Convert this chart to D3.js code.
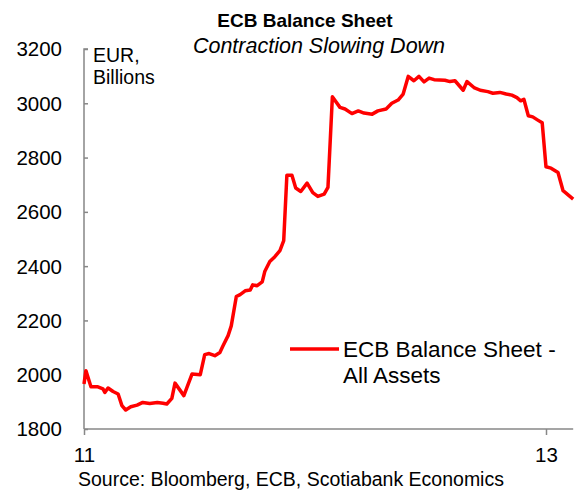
<!DOCTYPE html>
<html>
<head>
<meta charset="utf-8">
<script src="https://cdn.jsdelivr.net/npm/d3@7"></script>
<style>
  html, body { margin: 0; padding: 0; background: #fff; }
  svg { display: block; font-family: "Liberation Sans", Arial, sans-serif; }
</style>
</head>
<body>
<svg id="chart" width="581" height="492"></svg>
<script>
// ECB total assets, EUR billions (weekly observations)
const dates = [
  "2011-01-01","2011-01-04","2011-01-12","2011-01-22","2011-01-31","2011-02-03","2011-02-08","2011-02-16",
  "2011-02-24","2011-03-02","2011-03-08","2011-03-16","2011-03-26","2011-04-04","2011-04-15","2011-04-27",
  "2011-05-06","2011-05-12","2011-05-20","2011-05-25","2011-06-08","2011-06-21","2011-07-04","2011-07-11",
  "2011-07-18","2011-07-27","2011-08-04","2011-08-09","2011-08-17","2011-08-22","2011-08-30","2011-09-05",
  "2011-09-13","2011-09-21","2011-09-25","2011-10-02","2011-10-10","2011-10-14","2011-10-22","2011-10-30",
  "2011-11-07","2011-11-13","2011-11-18","2011-11-26","2011-12-02","2011-12-10","2011-12-20","2011-12-29",
  "2012-01-06","2012-01-16","2012-01-22","2012-01-29","2012-02-10","2012-02-18","2012-02-29","2012-03-10",
  "2012-03-19","2012-04-01","2012-04-10","2012-04-23","2012-05-02","2012-05-12","2012-05-20","2012-05-28",
  "2012-06-06","2012-06-14","2012-06-22","2012-06-30","2012-07-08","2012-07-25","2012-08-02","2012-08-10",
  "2012-08-23","2012-08-29","2012-09-09","2012-09-19","2012-10-01","2012-10-09","2012-10-20","2012-10-30",
  "2012-11-08","2012-11-16","2012-11-22","2012-11-27","2012-12-04","2012-12-11","2012-12-19","2012-12-26",
  "2013-01-01","2013-01-09","2013-01-20","2013-01-28","2013-02-13"
];
const assets = [
  1966, 2015, 1956, 1956, 1948, 1935, 1951, 1938,
  1929, 1886, 1870, 1882, 1888, 1898, 1894, 1898,
  1895, 1892, 1913, 1969, 1923, 2003, 2000, 2074,
  2078, 2070, 2082, 2107, 2144, 2180, 2288, 2295,
  2309, 2312, 2331, 2328, 2342, 2380, 2417, 2435,
  2457, 2494, 2735, 2735, 2688, 2675, 2706, 2671,
  2657, 2665, 2690, 3024, 2985, 2979, 2962, 2972,
  2964, 2960, 2972, 2979, 3000, 3012, 3034, 3099,
  3083, 3099, 3079, 3093, 3087, 3085, 3080, 3083,
  3048, 3080, 3058, 3048, 3043, 3037, 3040, 3034,
  3030, 3021, 3009, 3015, 2954, 2950, 2938, 2928,
  2766, 2761, 2745, 2678, 2647
];
const yTicks = [1800, 2000, 2200, 2400, 2600, 2800, 3000, 3200];
const xTickDates = ["2011-01-01", "2013-01-01"];
const titleText = "ECB Balance Sheet";
const subtitleText = "Contraction Slowing Down";
const unitLines = ["EUR,", "Billions"];
const legendLines = ["ECB Balance Sheet -", "All Assets"];
const sourceText = "Source: Bloomberg, ECB, Scotiabank Economics";

const parse = d3.timeParse("%Y-%m-%d");
const series = dates.map((d, i) => ({ date: parse(d), value: assets[i] }));

const svg = d3.select("#chart");
const axisColor = "#878787";
const lineColor = "#ff0000";

const plotLeft = 84, plotBottom = 429, plotTop = 49;
const x = d3.scaleTime()
  .domain([parse("2011-01-01"), parse("2013-01-01")])
  .range([plotLeft, 546]);
const xEnd = x(series[series.length - 1].date);
const y = d3.scaleLinear().domain([1800, 3200]).range([plotBottom, plotTop]);

// Title block
svg.append("text")
  .attr("x", 305).attr("y", 27)
  .attr("text-anchor", "middle")
  .attr("font-size", 19).attr("font-weight", "bold")
  .text(titleText);
svg.append("text")
  .attr("x", 319).attr("y", 53)
  .attr("text-anchor", "middle")
  .attr("font-size", 21.5).attr("font-style", "italic")
  .text(subtitleText);

// Y axis: ticks point inward, labels on the left
const yAxis = d3.axisRight(y).tickValues(yTicks).tickSize(4).tickFormat("");
const yg = svg.append("g").attr("transform", `translate(${plotLeft},0)`).call(yAxis);
yg.select(".domain").attr("stroke", axisColor).attr("stroke-width", 1.5)
  .attr("d", `M4,${plotTop}H0V${plotBottom}`);
yg.selectAll(".tick line").attr("stroke", axisColor).attr("stroke-width", 1.5);

svg.append("g").selectAll("text")
  .data(yTicks)
  .join("text")
  .attr("x", 62)
  .attr("y", d => y(d))
  .attr("dy", "0.36em")
  .attr("text-anchor", "end")
  .attr("font-size", 20.5)
  .text(d => d);

// X axis: year ticks below the baseline
const xAxis = d3.axisBottom(x)
  .tickValues(xTickDates.map(parse))
  .tickSize(6)
  .tickFormat(d3.timeFormat("%y"));
const xg = svg.append("g").attr("transform", `translate(0,${plotBottom})`).call(xAxis);
xg.select(".domain").attr("stroke", axisColor).attr("stroke-width", 1.5)
  .attr("d", `M${plotLeft},0H${xEnd}`);
xg.selectAll(".tick line").attr("stroke", axisColor).attr("stroke-width", 1.5);
xg.selectAll(".tick text")
  .attr("fill", "#000").attr("font-size", 20.5)
  .attr("font-family", "Liberation Sans, Arial, sans-serif")
  .attr("y", 33).attr("dy", "0");

// Unit label
svg.append("text")
  .attr("x", 93).attr("y", 62)
  .attr("font-size", 19.5)
  .selectAll("tspan")
  .data(unitLines)
  .join("tspan")
  .attr("x", 93)
  .attr("dy", (d, i) => i === 0 ? 0 : 22)
  .text(d => d);

// Data line
const line = d3.line().x(d => x(d.date)).y(d => y(d.value));
svg.append("path")
  .datum(series)
  .attr("fill", "none")
  .attr("stroke", lineColor)
  .attr("stroke-width", 3.5)
  .attr("stroke-linejoin", "round")
  .attr("d", line);

// Legend
svg.append("line")
  .attr("x1", 290).attr("x2", 339)
  .attr("y1", 349).attr("y2", 349)
  .attr("stroke", lineColor).attr("stroke-width", 3.5);
svg.append("text")
  .attr("x", 343).attr("y", 357)
  .attr("font-size", 22.5)
  .selectAll("tspan")
  .data(legendLines)
  .join("tspan")
  .attr("x", 343)
  .attr("dy", (d, i) => i === 0 ? 0 : 26)
  .text(d => d);

// Source note
svg.append("text")
  .attr("x", 78).attr("y", 486)
  .attr("font-size", 19.5)
  .text(sourceText);
</script>
</body>
</html>
